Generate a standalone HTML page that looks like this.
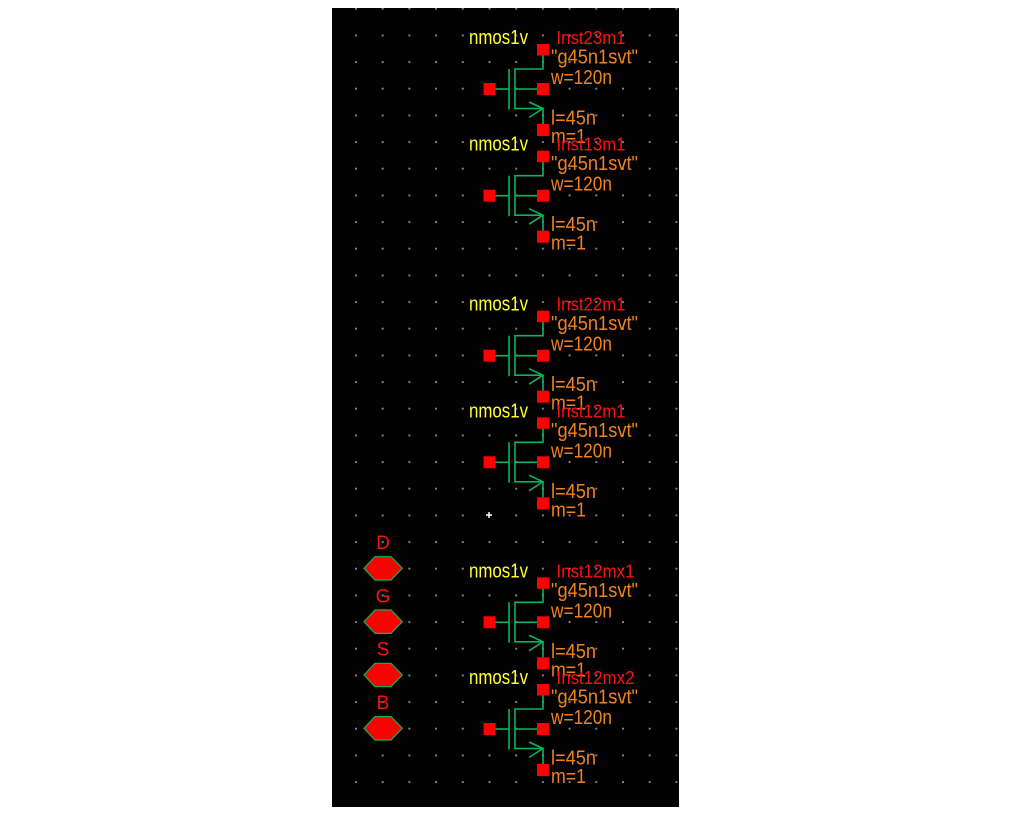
<!DOCTYPE html>
<html>
<head>
<meta charset="utf-8">
<style>
  html, body { margin: 0; padding: 0; background: #ffffff; }
  body { width: 1013px; height: 813px; overflow: hidden; }
  svg { display: block; }
  text { font-family: "Liberation Sans", "DejaVu Sans", sans-serif; }
</style>
</head>
<body>
<svg width="1013" height="813" viewBox="0 0 1013 813" xmlns="http://www.w3.org/2000/svg">
  <defs>
    <pattern id="grid" patternUnits="userSpaceOnUse" x="355" y="7.7" width="26.7" height="26.667">
      <rect x="0" y="0" width="2" height="2" fill="#7a7aa0"/>
    </pattern>
    <g id="tr">
      <!-- connectors -->
      <g fill="none" stroke="#10b060" stroke-width="1.6">
        <path d="M543,55 V69 H515 V108.5 H543 V124"/>
        <path d="M495.5,89 H509"/>
        <path d="M509,69 V109.5"/>
        <path d="M515,89 H537"/>
        <path d="M529,102 L543,108.5 L529,117.5"/>
      </g>
      <!-- pins -->
      <g fill="#ff0000">
        <rect x="537" y="44" width="12" height="11.5"/>
        <rect x="537" y="83" width="12" height="12"/>
        <rect x="483.5" y="83" width="12" height="12"/>
        <rect x="537" y="124" width="12" height="12"/>
      </g>
      <!-- parameter labels -->
      <g fill="#f0821e" font-size="17">
        <text transform="translate(551,63.5) scale(1,1.22)" textLength="87" lengthAdjust="spacingAndGlyphs">"g45n1svt"</text>
        <text transform="translate(551,84) scale(1,1.22)" textLength="61" lengthAdjust="spacingAndGlyphs">w=120n</text>
        <text transform="translate(551,124.5) scale(1,1.22)" textLength="45" lengthAdjust="spacingAndGlyphs">l=45n</text>
        <text transform="translate(551,143) scale(1,1.22)" textLength="35" lengthAdjust="spacingAndGlyphs">m=1</text>
      </g>
      <text transform="translate(469,44) scale(1,1.22)" fill="#ffff30" font-size="17" textLength="59" lengthAdjust="spacingAndGlyphs">nmos1v</text>
    </g>
  </defs>

  <!-- canvas -->
  <rect x="332" y="8" width="347" height="799" fill="#020203"/>
  <rect x="332" y="8" width="347" height="799" fill="url(#grid)"/>

  <!-- transistors -->
  <use href="#tr" transform="translate(0,0)"/>
  <text transform="translate(556.5,44) scale(1,1.1)" fill="#ff1010" font-size="17" textLength="69" lengthAdjust="spacingAndGlyphs">Inst23m1</text>

  <use href="#tr" transform="translate(0,106.7)"/>
  <text transform="translate(556.5,150.7) scale(1,1.1)" fill="#ff1010" font-size="17" textLength="69" lengthAdjust="spacingAndGlyphs">Inst13m1</text>

  <use href="#tr" transform="translate(0,266.7)"/>
  <text transform="translate(556.5,310.7) scale(1,1.1)" fill="#ff1010" font-size="17" textLength="69" lengthAdjust="spacingAndGlyphs">Inst22m1</text>

  <use href="#tr" transform="translate(0,373.3)"/>
  <text transform="translate(556.5,417.3) scale(1,1.1)" fill="#ff1010" font-size="17" textLength="69" lengthAdjust="spacingAndGlyphs">Inst12m1</text>

  <use href="#tr" transform="translate(0,533.3)"/>
  <text transform="translate(556.5,577.3) scale(1,1.1)" fill="#ff1010" font-size="17" textLength="78" lengthAdjust="spacingAndGlyphs">Inst12mx1</text>

  <use href="#tr" transform="translate(0,640)"/>
  <text transform="translate(556.5,684) scale(1,1.1)" fill="#ff1010" font-size="17" textLength="78" lengthAdjust="spacingAndGlyphs">Inst12mx2</text>

  <!-- white origin cross -->
  <g stroke="#ffffff" stroke-width="1.5">
    <line x1="486" y1="515" x2="492" y2="515"/>
    <line x1="489" y1="512" x2="489" y2="518"/>
  </g>

  <!-- pins D G S B -->
  <g font-size="19" fill="#ff1010" text-anchor="middle">
    <text x="383" y="549">D</text>
    <text x="383" y="602.4">G</text>
    <text x="383" y="655.7">S</text>
    <text x="383" y="709">B</text>
  </g>
  <g fill="#ff0000" stroke="#10b060" stroke-width="1.2">
    <polygon points="364,568.3 375,556.7 391,556.7 402.3,568.3 391,580 375,580"/>
    <polygon points="364,621.7 375,610 391,610 402.3,621.7 391,633.4 375,633.4"/>
    <polygon points="364,675 375,663.3 391,663.3 402.3,675 391,686.7 375,686.7"/>
    <polygon points="364,728.3 375,716.6 391,716.6 402.3,728.3 391,740 375,740"/>
  </g>
</svg>
</body>
</html>
